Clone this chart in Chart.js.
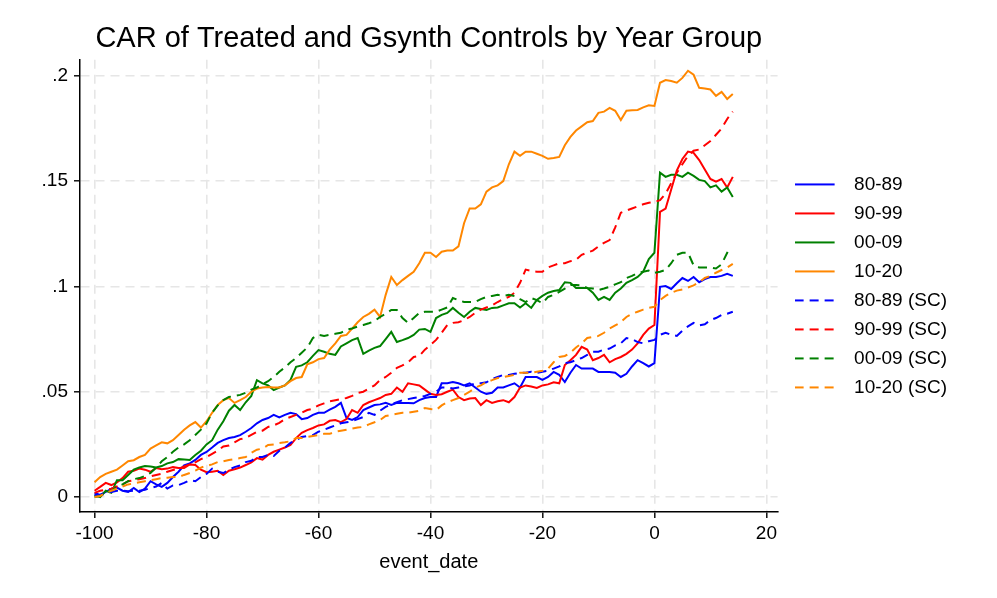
<!DOCTYPE html>
<html>
<head>
<meta charset="utf-8">
<script src="https://cdn.jsdelivr.net/npm/chart.js@4.4.1/dist/chart.umd.min.js"></script>
<style>
html,body{margin:0;padding:0;background:#fff;}
#wrap{width:997px;height:598px;}
</style>
</head>
<body>
<div id="wrap"><canvas id="c" width="997" height="598"></canvas></div>
<script>
// x categories: event_date
const eventDates = [
 -100,-99,-98,-97,-96,-95,-94,-93,-92,-91,
 -90,-89,-88,-87,-86,-85,-84,-83,-82,-81,
 -80,-79,-78,-77,-76,-75,-74,-73,-72,-71,
 -70,-69,-68,-67,-66,-65,-64,-63,-62,-61,
 -60,-59,-58,-57,-56,-55,-54,-53,-52,-51,
 -50,-49,-48,-47,-46,-45,-44,-43,-42,-41,
 -40,-39,-38,-37,-36,-35,-34,-33,-32,-31,
 -30,-29,-28,-27,-26,-25,-24,-23,-22,-21,
 -20,-19,-18,-17,-16,-15,-14,-13,-12,-11,
 -10,-9,-8,-7,-6,-5,-4,-3,-2,-1,
 0,1,2,3,4,5,6,7,8,9,
 10,11,12,13,14
];

// treated CAR by year group
const car8089 = [
 .002,.001,.0024,.004,.0045,.003,.0024,.0043,.0024,.004,
 .0075,.006,.0048,.0067,.0095,.012,.015,.016,.0176,.020,
 .0214,.0235,.0257,.027,.028,.0285,.0294,.031,.0328,.035,
 .0366,.0375,.039,.0378,.039,.040,.0394,.037,.0375,.039,
 .040,.040,.0415,.0428,.0447,.0375,.0366,.038,.0413,.0425,
 .0437,.044,.0447,.0437,.0447,.0447,.0447,.0445,.046,.047,
 .0475,.0475,.054,.054,.0546,.054,.053,.054,.052,.050,
 .049,.0495,.052,.052,.053,.054,.052,.057,.057,.057,
 .0556,.057,.0594,.058,.0546,.059,.0627,.061,.061,.061,
 .0594,.0594,.0594,.059,.057,.0585,.062,.065,.0636,.062,
 .0636,.0998,.1002,.0988,.1015,.104,.1026,.1045,.102,.1035,
 .1045,.1045,.105,.106,.105
];
const car9099 = [
 .003,.0048,.0067,.0057,.007,.009,.012,.0125,.0135,.013,
 .012,.0138,.0132,.0135,.0142,.0138,.0138,.0155,.0152,.013,
 .0118,.012,.0125,.0105,.0125,.0132,.014,.0152,.0165,.0185,
 .0178,.020,.0215,.0225,.0235,.0247,.028,.0305,.0318,.0328,
 .034,.0345,.0362,.0366,.0356,.037,.0413,.040,.0437,.045,
 .046,.047,.0485,.049,.052,.050,.054,.0535,.053,.051,
 .049,.0485,.0488,.050,.051,.0475,.046,.0468,.047,.0437,
 .046,.0447,.0455,.046,.045,.0475,.052,.053,.0525,.0518,
 .053,.0535,.0545,.054,.0627,.065,.0675,.0713,.070,.065,
 .066,.0675,.064,.0655,.0665,.068,.070,.073,.077,.080,
 .0817,.1354,.137,.146,.155,.1605,.164,.1634,.160,.1555,
 .151,.1497,.151,.147,.152
];
const car0009 = [
 .001,.000,.003,.002,.008,.008,.0105,.013,.014,.0147,
 .0145,.014,.0147,.016,.0166,.018,.0178,.0176,.020,.022,
 .025,.027,.032,.036,.041,.0437,.0413,.045,.048,.0555,
 .054,.053,.0508,.052,.053,.0556,.0618,.0625,.064,.067,
 .0698,.069,.068,.0675,.0715,.073,.0745,.0755,.068,.0695,
 .0708,.0717,.075,.0784,.0736,.0745,.0755,.077,.0795,.0798,
 .0784,.085,.0865,.0874,.0898,.0875,.0855,.088,.0898,.0893,
 .0888,.0898,.090,.091,.092,.092,.090,.092,.0898,.0936,
 .0955,.097,.0978,.0983,.102,.1017,.0993,.0993,.0993,.097,
 .0936,.095,.0936,.097,.099,.1017,.103,.1045,.107,.113,
 .116,.154,.152,.153,.153,.152,.154,.1525,.1506,.150,
 .147,.148,.145,.147,.1425
];
const car1020 = [
 .007,.0095,.011,.012,.013,.015,.017,.0175,.019,.020,
 .023,.0245,.026,.0255,.027,.0295,.032,.034,.0356,.033,
 .036,.040,.0437,.046,.047,.0447,.046,.0475,.050,.0515,
 .052,.0523,.052,.052,.053,.055,.0565,.057,.063,.064,
 .0655,.066,.070,.073,.0765,.077,.080,.083,.0855,.087,
 .089,.0855,.096,.1045,.1007,.103,.105,.107,.111,.116,
 .116,.114,.1165,.117,.117,.119,.130,.137,.137,.139,
 .145,.147,.148,.150,.158,.164,.162,.164,.164,.163,
 .162,.1606,.161,.1615,.167,.171,.174,.176,.178,.1785,
 .1824,.183,.1848,.1834,.179,.1834,.1836,.1838,.185,.186,
 .1857,.1967,.198,.1975,.1967,.199,.2024,.2005,.1943,.194,
 .1935,.1905,.1924,.189,.1914
];

// synthetic control (SC) CAR by year group
const sc8089 = [
 .001,.001,.002,.0024,.003,.003,.0028,.003,.003,.0035,
 .0043,.005,.0067,.004,.0055,.0057,.0067,.008,.0075,.0095,
 .011,.0135,.012,.0114,.013,.0142,.015,.0166,.0172,.019,
 .019,.020,.0195,.022,.0235,.0257,.027,.0285,.029,.0294,
 .031,.032,.033,.034,.035,.0355,.036,.037,.038,.040,
 .039,.041,.0428,.044,.045,.046,.0465,.047,.0475,.048,
 .049,.050,.052,.052,.0515,.052,.0525,.053,.054,.054,
 .0545,.056,.057,.058,.058,.0585,.059,.059,.0595,.059,
 .0595,.060,.061,.062,.0636,.064,.065,.066,.0675,.069,
 .069,.070,.0705,.072,.073,.0755,.075,.0736,.073,.074,
 .0746,.077,.078,.077,.0765,.079,.081,.0827,.0815,.082,
 .084,.085,.0865,.087,.088
];
const sc9099 = [
 .002,.003,.0035,.004,.005,.006,.0075,.008,.0085,.009,
 .0098,.0105,.011,.012,.0128,.0135,.0145,.0155,.0165,.018,
 .019,.0205,.022,.024,.0245,.026,.0275,.028,.0295,.031,
 .0315,.0333,.034,.0352,.037,.038,.039,.040,.0413,.042,
 .0435,.0445,.0455,.046,.0465,.047,.048,.0494,.050,.0515,
 .053,.0556,.057,.059,.0613,.0625,.064,.0665,.067,.070,
 .0722,.0746,.078,.0817,.0827,.083,.084,.0855,.0875,.089,
 .090,.091,.0926,.094,.095,.097,.1017,.108,.1074,.107,
 .107,.109,.110,.111,.111,.112,.1126,.115,.116,.117,
 .119,.1207,.122,.128,.135,.136,.137,.138,.139,.1397,
 .140,.141,.144,.149,.154,.158,.162,.1644,.165,.167,
 .169,.172,.175,.1795,.183
];
const sc0009 = [
 0,.0005,.002,.003,.005,.006,.0075,.0085,.009,.010,
 .0115,.014,.017,.019,.0215,.0235,.025,.027,.0295,.032,
 .035,.040,.0435,.046,.0475,.048,.0485,.0495,.051,.052,
 .0535,.055,.057,.0595,.0615,.064,.066,.0685,.071,.0755,
 .077,.0765,.077,.0775,.078,.0795,.080,.081,.0817,.0825,
 .0835,.0855,.087,.0888,.0888,.085,.0827,.085,.0874,.088,
 .088,.088,.089,.090,.0945,.0935,.0926,.0926,.0926,.094,
 .095,.0955,.096,.0955,.096,.0955,.094,.0926,.0945,.0935,
 .092,.095,.096,.0974,.099,.1007,.1007,.1005,.0993,.099,
 .0983,.099,.0998,.101,.102,.104,.105,.1064,.107,.1075,
 .1064,.107,.1078,.111,.115,.116,.116,.110,.109,.109,
 .109,.1085,.1105,.116,.115
];
const sc1020 = [
 0,.0005,.002,.003,.004,.005,.006,.0065,.007,.0075,
 .008,.0085,.009,.0092,.0095,.0095,.0105,.0114,.0125,.014,
 .0148,.0155,.0166,.017,.0176,.018,.0185,.019,.021,.0225,
 .023,.0247,.025,.0257,.026,.0265,.028,.028,.0285,.029,
 .0295,.030,.030,.031,.0315,.032,.0325,.033,.0333,.0345,
 .0355,.0366,.0385,.039,.0395,.040,.040,.0405,.041,.0423,
 .0418,.0413,.0435,.045,.046,.047,.0485,.050,.052,.053,
 .0546,.0555,.0565,.057,.0575,.058,.059,.059,.059,.0595,
 .060,.061,.064,.0665,.067,.0685,.071,.073,.0755,.076,
 .0765,.078,.080,.0815,.083,.0855,.087,.088,.089,.0898,
 .0903,.0935,.0955,.097,.098,.0985,.0995,.1005,.102,.104,
 .105,.1065,.1078,.109,.1107
];

const seriesLabels = ['80-89','90-99','00-09','10-20','80-89 (SC)','90-99 (SC)','00-09 (SC)','10-20 (SC)'];
const seriesValues = [car8089, car9099, car0009, car1020, sc8089, sc9099, sc0009, sc1020];

const xTicks = [-100,-80,-60,-40,-20,0,20];
const yTicks = [0,0.05,0.1,0.15,0.2];
const yTickLabels = ['0','.05','.1','.15','.2'];

const colors = ['rgb(0,0,255)','rgb(255,0,0)','rgb(0,128,0)','rgb(255,135,0)'];
const DASH = [9, 6];
const FONT = '"Liberation Sans", Arial, Helvetica, sans-serif';
Chart.defaults.font.family = FONT;
Chart.defaults.color = '#000';

const datasets = seriesValues.map((vals, i) => ({
  label: seriesLabels[i],
  data: eventDates.map((d, j) => ({x: d, y: vals[j]})),
  borderColor: colors[i % 4],
  backgroundColor: colors[i % 4],
  borderWidth: 2,
  borderDash: i < 4 ? [] : DASH,
  pointRadius: 0,
  pointHoverRadius: 0,
  tension: 0,
  fill: false,
  order: 8 - i
}));

// legend key swatch: a 40px line sample inside a 50px-wide box
function legendSwatch(color, dash) {
  const c = document.createElement('canvas');
  c.width = 50; c.height = 6;
  const g = c.getContext('2d');
  g.strokeStyle = color; g.lineWidth = 2; g.setLineDash(dash);
  g.beginPath(); g.moveTo(0, 3); g.lineTo(40, 3); g.stroke();
  return c;
}
const swatches = datasets.map(ds => legendSwatch(ds.borderColor, ds.borderDash));

const gridStyle = {
  color: '#e6e6e6',
  lineWidth: 1.6,
  drawTicks: true,
  tickLength: 6,
  tickColor: '#000',
  tickWidth: 1.4,
  tickBorderDash: []
};

new Chart(document.getElementById('c'), {
  type: 'line',
  data: { datasets },
  options: {
    responsive: false,
    animation: false,
    devicePixelRatio: 1,
    layout: { padding: { left: 0, right: 40, top: 0, bottom: 0 } },
    plugins: {
      title: {
        display: true,
        text: 'CAR of Treated and Gsynth Controls by Year Group',
        font: { size: 29, weight: 'normal' },
        color: '#000',
        padding: { top: 22, bottom: 3 },
        fullSize: false
      },
      legend: {
        position: 'right',
        fullSize: false,
        align: 'center',
        maxWidth: 240,
        labels: {
          usePointStyle: true,
          pointStyleWidth: 50,
          font: { size: 19 },
          color: '#000',
          padding: 10,
          generateLabels: chart => chart.data.datasets.map((ds, i) => ({
            text: ds.label,
            pointStyle: swatches[i],
            fillStyle: ds.borderColor,
            strokeStyle: ds.borderColor,
            lineWidth: 0,
            hidden: false,
            datasetIndex: i,
            fontColor: '#000'
          })),
          sort: (a, b) => a.datasetIndex - b.datasetIndex
        }
      },
      tooltip: { enabled: false }
    },
    scales: {
      x: {
        type: 'linear',
        position: 'bottom',
        min: -102.6,
        max: 22,
        afterBuildTicks: s => { s.ticks = xTicks.map(v => ({ value: v })); },
        afterFit: s => { s.height = 86; },
        ticks: { font: { size: 19 }, color: '#000', padding: 4, maxRotation: 0, autoSkip: false },
        grid: gridStyle,
        border: { display: true, color: '#000', width: 1.5, dash: DASH },
        title: { display: true, text: 'event_date', font: { size: 20 }, color: '#000', padding: { top: 0, bottom: 24 } }
      },
      y: {
        type: 'linear',
        position: 'left',
        min: -0.0071,
        max: 0.2076,
        afterBuildTicks: s => { s.ticks = yTicks.map(v => ({ value: v })); },
        afterFit: s => { s.width = 80; },
        ticks: {
          font: { size: 19 }, color: '#000', padding: 6,
          callback: v => { const k = yTicks.findIndex(t => Math.abs(t - v) < 1e-9); return k >= 0 ? yTickLabels[k] : ''; }
        },
        grid: gridStyle,
        border: { display: true, color: '#000', width: 1.5, dash: DASH }
      },
      yR: {
        type: 'linear',
        position: 'right',
        display: true,
        grid: { display: false, drawTicks: false },
        border: { display: false },
        ticks: { display: false },
        afterFit: s => { s.width = 7; }
      }
    }
  }
});
</script>
</body>
</html>
